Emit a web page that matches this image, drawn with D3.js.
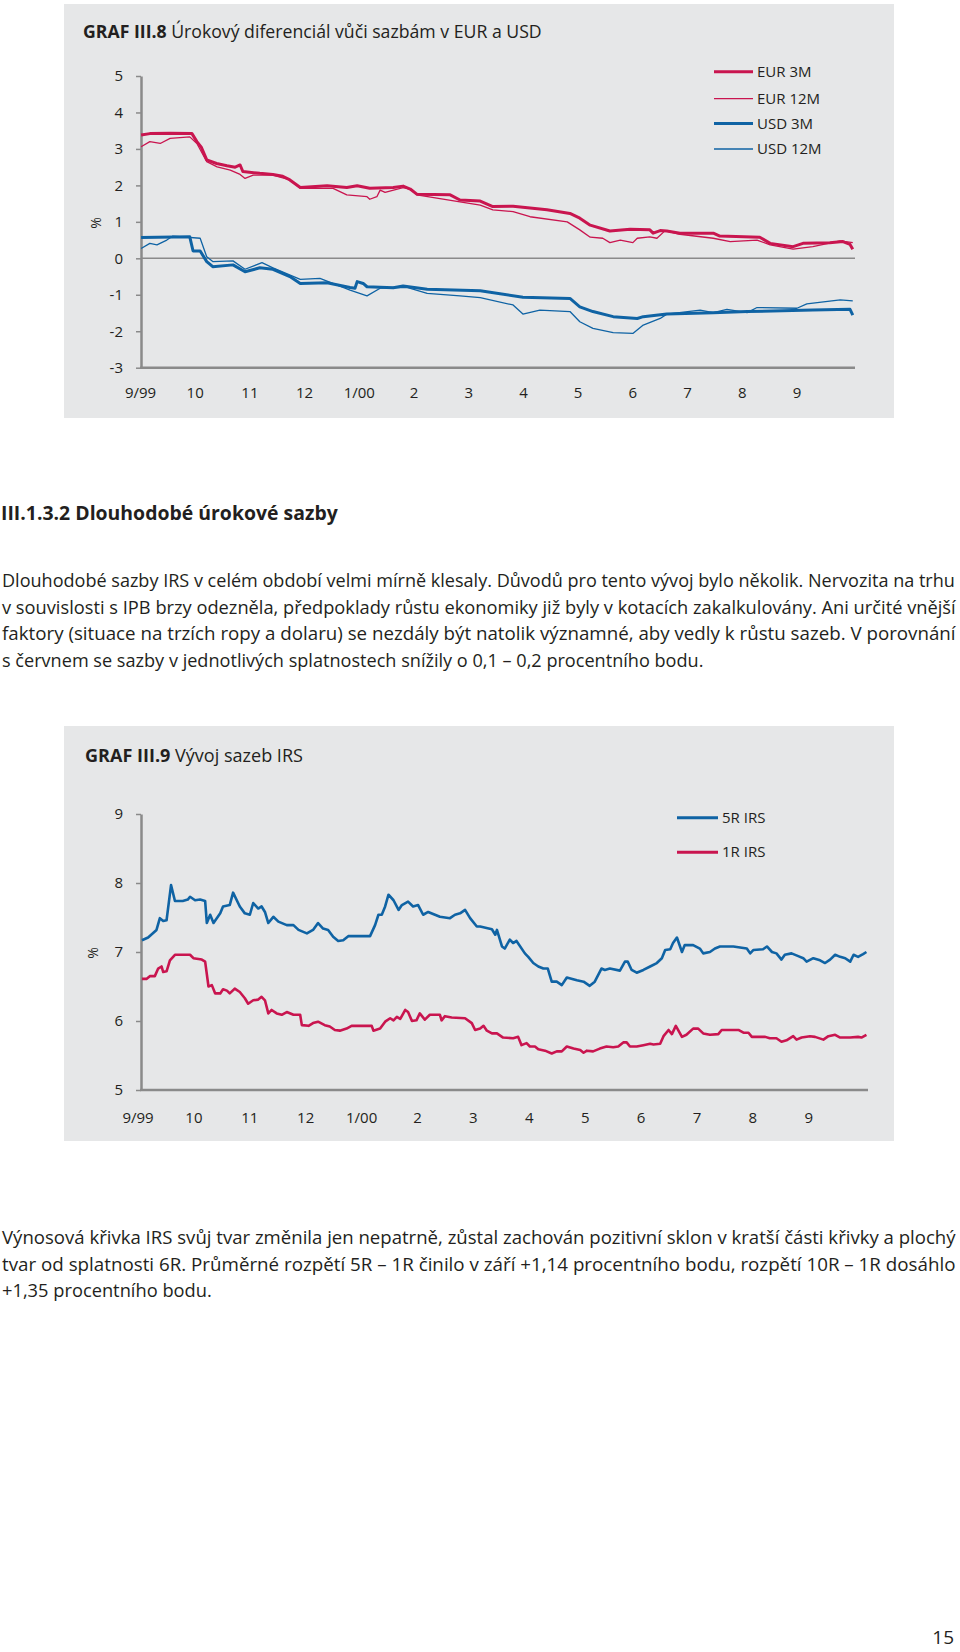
<!DOCTYPE html>
<html><head><meta charset="utf-8">
<script src="https://cdn.jsdelivr.net/npm/d3@7"></script>
<style>
body{margin:0;background:#fff;}
svg{display:block;}
text{font-family:"Liberation Sans Narrow","Open Sans","DejaVu Sans Condensed",sans-serif;fill:#231f20;}
</style></head><body><svg id="page" width="960" height="1652"></svg>
<script>
// ---------- DATA ----------
const monthLabels = ["9/99","10","11","12","1/00","2","3","4","5","6","7","8","9"];
const yTicksTop = [-3,-2,-1,0,1,2,3,4,5];
const yTicksBottom = [5,6,7,8,9];
const legendTop = ["EUR 3M","EUR 12M","USD 3M","USD 12M"];
const legendBottom = ["5R IRS","1R IRS"];

// [months since 1 Sep 1999, value in %]
const eur3m = [[0.02,3.38],[0.18,3.42],[0.55,3.43],[0.95,3.42],[1.04,3.2],[1.12,3.05],[1.22,2.7],[1.40,2.6],[1.59,2.54],[1.74,2.5],[1.83,2.56],[1.88,2.38],[2.19,2.33],[2.43,2.3],[2.61,2.25],[2.74,2.15],[2.93,1.94],[3.42,1.99],[3.78,1.94],[3.97,1.99],[4.20,1.92],[4.63,1.94],[4.81,1.98],[4.94,1.9],[5.06,1.76],[5.67,1.74],[5.85,1.6],[6.22,1.57],[6.45,1.42],[6.82,1.43],[7.44,1.33],[7.86,1.23],[8.04,1.1],[8.23,0.91],[8.59,0.75],[8.96,0.8],[9.32,0.78],[9.38,0.69],[9.51,0.76],[9.63,0.75],[9.87,0.69],[10.48,0.69],[10.60,0.61],[11.33,0.58],[11.52,0.41],[11.94,0.32],[12.12,0.41],[12.61,0.43],[12.85,0.46],[12.98,0.38],[13.03,0.25]];
const eur12m = [[0.02,3.06],[0.18,3.2],[0.37,3.15],[0.55,3.29],[0.91,3.33],[1.04,3.15],[1.22,2.65],[1.41,2.51],[1.65,2.42],[1.83,2.3],[1.92,2.19],[2.07,2.28],[2.43,2.28],[2.74,2.15],[2.93,1.92],[3.53,1.92],[3.78,1.74],[4.15,1.69],[4.20,1.62],[4.33,1.69],[4.39,1.87],[4.48,1.81],[4.81,1.94],[4.94,1.9],[5.06,1.74],[5.85,1.55],[6.22,1.46],[6.45,1.33],[6.82,1.28],[7.13,1.14],[7.81,1.0],[8.04,0.78],[8.23,0.58],[8.46,0.55],[8.59,0.43],[8.78,0.5],[9.01,0.43],[9.09,0.55],[9.32,0.59],[9.45,0.55],[9.60,0.76],[9.87,0.66],[10.48,0.55],[10.79,0.46],[11.28,0.5],[11.52,0.37],[11.94,0.25],[12.30,0.32],[12.80,0.48],[13.03,0.43]];
const usd3m = [[0.02,0.57],[0.91,0.59],[0.97,0.2],[1.10,0.2],[1.22,-0.09],[1.33,-0.23],[1.70,-0.18],[1.92,-0.37],[2.19,-0.26],[2.43,-0.3],[2.74,-0.5],[2.93,-0.69],[3.42,-0.67],[3.84,-0.8],[3.93,-0.82],[3.97,-0.64],[4.08,-0.69],[4.15,-0.78],[4.63,-0.81],[4.81,-0.76],[5.25,-0.85],[6.22,-0.89],[7.00,-1.07],[7.86,-1.1],[8.04,-1.33],[8.28,-1.46],[8.65,-1.6],[9.09,-1.65],[9.20,-1.6],[9.63,-1.53],[10.48,-1.49],[11.10,-1.46],[12.30,-1.42],[12.98,-1.4],[13.03,-1.56]];
const usd12m = [[0.02,0.27],[0.18,0.41],[0.31,0.37],[0.49,0.5],[0.60,0.61],[1.10,0.55],[1.22,0.04],[1.33,-0.09],[1.70,-0.07],[1.92,-0.3],[2.23,-0.12],[2.43,-0.26],[2.93,-0.58],[3.29,-0.55],[3.84,-0.87],[4.15,-1.03],[4.39,-0.82],[4.63,-0.8],[4.88,-0.8],[5.25,-0.96],[5.85,-1.03],[6.22,-1.08],[6.82,-1.28],[7.00,-1.53],[7.31,-1.42],[7.86,-1.46],[8.04,-1.74],[8.28,-1.92],[8.65,-2.04],[9.01,-2.06],[9.20,-1.83],[9.51,-1.65],[9.63,-1.53],[10.24,-1.42],[10.48,-1.49],[10.73,-1.4],[11.10,-1.49],[11.28,-1.35],[12.01,-1.37],[12.19,-1.25],[12.80,-1.14],[13.03,-1.17]];

const irs5r = [[0.08,7.17],[0.19,7.21],[0.34,7.32],[0.40,7.49],[0.46,7.45],[0.52,7.46],[0.60,7.97],[0.67,7.74],[0.81,7.74],[0.90,7.76],[0.94,7.80],[1.03,7.75],[1.12,7.76],[1.21,7.74],[1.24,7.42],[1.30,7.54],[1.36,7.42],[1.48,7.56],[1.53,7.66],[1.65,7.68],[1.71,7.86],[1.83,7.66],[1.92,7.56],[2.01,7.54],[2.07,7.71],[2.16,7.63],[2.22,7.66],[2.28,7.58],[2.34,7.42],[2.43,7.51],[2.52,7.44],[2.67,7.39],[2.79,7.39],[2.88,7.32],[3.03,7.27],[3.14,7.32],[3.23,7.42],[3.32,7.34],[3.41,7.32],[3.50,7.22],[3.59,7.16],[3.68,7.17],[3.77,7.23],[4.16,7.23],[4.25,7.39],[4.31,7.54],[4.37,7.54],[4.43,7.66],[4.49,7.83],[4.58,7.75],[4.67,7.61],[4.73,7.68],[4.84,7.73],[4.93,7.66],[5.02,7.68],[5.11,7.54],[5.20,7.58],[5.41,7.51],[5.59,7.49],[5.68,7.54],[5.77,7.56],[5.86,7.61],[5.95,7.49],[6.07,7.37],[6.13,7.37],[6.34,7.33],[6.40,7.25],[6.43,7.32],[6.52,7.08],[6.57,7.05],[6.66,7.18],[6.72,7.13],[6.78,7.16],[6.93,6.98],[6.99,6.93],[7.08,6.84],[7.17,6.79],[7.26,6.76],[7.34,6.76],[7.41,6.57],[7.50,6.57],[7.59,6.52],[7.68,6.63],[7.86,6.59],[7.98,6.57],[8.09,6.51],[8.18,6.57],[8.30,6.76],[8.36,6.74],[8.45,6.76],[8.63,6.73],[8.72,6.86],[8.77,6.86],[8.84,6.74],[8.93,6.70],[9.05,6.74],[9.17,6.79],[9.29,6.84],[9.38,6.91],[9.44,7.03],[9.53,7.04],[9.58,7.13],[9.65,7.21],[9.74,7.0],[9.79,7.10],[9.94,7.10],[10.06,7.05],[10.12,6.98],[10.24,7.0],[10.33,7.05],[10.42,7.08],[10.66,7.08],[10.90,7.05],[10.96,6.98],[11.02,7.03],[11.19,7.04],[11.26,7.08],[11.35,7.0],[11.43,6.98],[11.52,6.89],[11.58,6.96],[11.70,6.98],[11.82,6.94],[11.91,6.91],[11.97,6.86],[12.09,6.91],[12.21,6.88],[12.30,6.84],[12.39,6.89],[12.48,6.96],[12.57,6.93],[12.66,6.91],[12.75,6.86],[12.81,6.96],[12.89,6.93],[12.98,6.97],[13.04,7.0]];
const irs1r = [[0.08,6.61],[0.16,6.61],[0.22,6.65],[0.31,6.65],[0.37,6.76],[0.43,6.79],[0.46,6.71],[0.52,6.72],[0.58,6.88],[0.67,6.96],[0.94,6.96],[1.00,6.91],[1.15,6.89],[1.21,6.86],[1.27,6.50],[1.33,6.52],[1.39,6.40],[1.48,6.40],[1.53,6.46],[1.60,6.44],[1.65,6.40],[1.74,6.47],[1.83,6.42],[1.92,6.33],[1.98,6.25],[2.07,6.30],[2.16,6.31],[2.22,6.35],[2.28,6.30],[2.34,6.11],[2.40,6.16],[2.49,6.11],[2.58,6.09],[2.67,6.13],[2.79,6.09],[2.91,6.09],[2.94,5.94],[3.06,5.93],[3.14,5.97],[3.23,5.99],[3.35,5.94],[3.44,5.92],[3.53,5.87],[3.62,5.86],[3.74,5.89],[3.83,5.93],[4.19,5.93],[4.22,5.86],[4.34,5.89],[4.43,5.99],[4.52,6.04],[4.58,6.01],[4.64,6.06],[4.70,6.03],[4.79,6.16],[4.84,6.13],[4.91,6.0],[4.99,6.01],[5.05,6.11],[5.14,6.02],[5.23,6.09],[5.41,6.09],[5.44,6.01],[5.50,6.07],[5.62,6.05],[5.86,6.04],[5.98,5.97],[6.04,5.87],[6.13,5.89],[6.19,5.93],[6.25,5.86],[6.34,5.82],[6.43,5.82],[6.54,5.76],[6.72,5.75],[6.81,5.77],[6.87,5.65],[6.96,5.68],[7.02,5.63],[7.11,5.63],[7.17,5.59],[7.29,5.57],[7.41,5.53],[7.50,5.56],[7.59,5.56],[7.68,5.63],[7.80,5.60],[7.92,5.58],[7.98,5.54],[8.04,5.57],[8.15,5.56],[8.27,5.60],[8.39,5.63],[8.51,5.62],[8.60,5.63],[8.69,5.69],[8.75,5.69],[8.81,5.63],[8.93,5.63],[9.05,5.65],[9.17,5.67],[9.23,5.66],[9.35,5.67],[9.41,5.78],[9.50,5.87],[9.56,5.81],[9.63,5.93],[9.74,5.77],[9.82,5.80],[9.94,5.89],[10.03,5.89],[10.12,5.82],[10.24,5.80],[10.39,5.81],[10.45,5.87],[10.75,5.87],[10.84,5.83],[10.93,5.83],[10.99,5.77],[11.23,5.77],[11.31,5.75],[11.43,5.75],[11.52,5.70],[11.61,5.72],[11.73,5.78],[11.79,5.73],[11.88,5.76],[12.03,5.78],[12.12,5.77],[12.27,5.73],[12.36,5.78],[12.48,5.80],[12.57,5.76],[12.75,5.76],[12.89,5.77],[12.95,5.76],[13.04,5.80]];

// ---------- DRAWING ----------
const RED = "#c9154f", BLUE = "#0f63a4", GRAY = "#8a8a8a", BG = "#e6e7e8";
const svg = d3.select("#page");

// place text at (x,y) and squeeze it horizontally to a target width
function fitText(sel, x, y, w) {
  const nat = sel.node().getComputedTextLength();
  const sx = nat > 0 ? w / nat : 1;
  sel.attr("x", 0).attr("y", 0).attr("transform", `translate(${x},${y}) scale(${sx},1)`);
  return sel;
}

function drawChart(o) {
  const g = svg.append("g");
  g.append("rect").attr("x", o.panel[0]).attr("y", o.panel[1]).attr("width", o.panel[2]).attr("height", o.panel[3]).attr("fill", BG);
  const t = g.append("text").style("font-size", "18px");
  t.append("tspan").style("font-weight", "bold").text(o.titleBold);
  t.append("tspan").text(" " + o.titleRest);
  fitText(t, o.titleX, o.titleY, o.titleW);

  const x = d3.scaleLinear().domain(o.xDomain).range(o.xRange);
  const y = d3.scaleLinear().domain(o.yDomain).range(o.yRange);

  if (o.zero) {
    g.append("line").attr("x1", 141).attr("x2", o.axisEnd).attr("y1", y(0)).attr("y2", y(0))
      .attr("stroke", GRAY).attr("stroke-width", 1.5);
  }
  const ya = g.append("g").attr("transform", "translate(141,0)")
    .call(d3.axisLeft(y).tickValues(o.yTicks).tickSize(5).tickSizeOuter(0).tickPadding(13).tickFormat(d => String(d)));
  ya.select(".domain").attr("stroke", GRAY).attr("stroke-width", 2.5);
  ya.selectAll(".tick line").attr("stroke", GRAY).attr("stroke-width", 1.5);
  ya.selectAll(".tick text").attr("fill", "#333").style("font-size", "15px").style("font-family", null);
  g.append("line").attr("x1", 140).attr("x2", o.axisEnd).attr("y1", y(o.yDomain[0])).attr("y2", y(o.yDomain[0]))
    .attr("stroke", GRAY).attr("stroke-width", 2.5);
  const xa = g.append("g").attr("transform", `translate(0,${y(o.yDomain[0])})`)
    .call(d3.axisBottom(x).tickValues(d3.range(monthLabels.length)).tickSize(0).tickFormat((d, i) => monthLabels[i]));
  xa.select(".domain").remove();
  xa.selectAll(".tick text").attr("y", o.xLabelOff).attr("dy", 0).attr("fill", "#333").style("font-size", "15px").style("font-family", null);

  g.append("text").attr("transform", `translate(${o.pctX},${o.pctY}) rotate(-90)`).attr("text-anchor", "middle")
    .style("font-size", "14px").attr("fill", "#333").text("%");

  const line = d3.line().x(d => x(d[0])).y(d => y(d[1]));
  o.series.forEach(s => {
    g.append("path").datum(s.data).attr("d", line).attr("fill", "none").attr("stroke", s.color)
      .attr("stroke-width", s.w).attr("stroke-linejoin", "round");
  });
  o.series.forEach((s, i) => {
    const ly = o.legY[i];
    g.append("line").attr("x1", o.legX1).attr("x2", o.legX2).attr("y1", ly).attr("y2", ly)
      .attr("stroke", s.color).attr("stroke-width", s.lw);
    g.append("text").attr("x", o.legX2 + 4).attr("y", ly + 5).style("font-size", "15px").attr("fill", "#333").text(s.name);
  });
}

drawChart({
  panel: [64, 4, 830, 414], titleX: 83, titleY: 37.5, titleW: 459,
  titleBold: "GRAF III.8", titleRest: "Úrokový diferenciál vůči sazbám v EUR a USD",
  xDomain: [0, 13.1], xRange: [140, 856.6], yDomain: [-3, 5], yRange: [367.7, 76], yTicks: yTicksTop,
  zero: true, axisEnd: 855, xLabelOff: 30.5, pctX: 101, pctY: 223,
  legX1: 714, legX2: 753, legY: [71.7, 98.7, 123.5, 149],
  series: [
    {name: legendTop[0], data: eur3m, color: RED, w: 3, lw: 3},
    {name: legendTop[1], data: eur12m, color: RED, w: 1.3, lw: 1.3},
    {name: legendTop[2], data: usd3m, color: BLUE, w: 3, lw: 3.2},
    {name: legendTop[3], data: usd12m, color: BLUE, w: 1.3, lw: 1.3}
  ]
});

drawChart({
  panel: [64, 726, 830, 415], titleX: 85, titleY: 761.7, titleW: 218,
  titleBold: "GRAF III.9", titleRest: "Vývoj sazeb IRS",
  xDomain: [0, 13], xRange: [137.5, 864.2], yDomain: [5, 9], yRange: [1090, 814], yTicks: yTicksBottom,
  zero: false, axisEnd: 868, xLabelOff: 32.5, pctX: 98, pctY: 953,
  legX1: 677, legX2: 718, legY: [817.7, 852.3],
  series: [
    {name: legendBottom[0], data: irs5r, color: BLUE, w: 2.6, lw: 3},
    {name: legendBottom[1], data: irs1r, color: RED, w: 2.6, lw: 3}
  ]
});

// ---------- BODY TEXT ----------
const heading = "III.1.3.2 Dlouhodobé úrokové sazby";
const para1 = [
  "Dlouhodobé sazby IRS v celém období velmi mírně klesaly. Důvodů pro tento vývoj bylo několik. Nervozita na trhu",
  "v souvislosti s IPB brzy odezněla, předpoklady růstu ekonomiky již byly v kotacích zakalkulovány. Ani určité vnější",
  "faktory (situace na trzích ropy a dolaru) se nezdály být natolik významné, aby vedly k růstu sazeb. V porovnání",
  "s červnem se sazby v jednotlivých splatnostech snížily o 0,1 – 0,2 procentního bodu."
];
const para1W = [954, 954, 954, 702];
const para2 = [
  "Výnosová křivka IRS svůj tvar změnila jen nepatrně, zůstal zachován pozitivní sklon v kratší části křivky a plochý",
  "tvar od splatnosti 6R. Průměrné rozpětí 5R – 1R činilo v září +1,14 procentního bodu, rozpětí 10R – 1R dosáhlo",
  "+1,35 procentního bodu."
];
const para2W = [954, 954, 210];

fitText(svg.append("text").style("font-size", "19.5px").style("font-weight", "bold").text(heading), 1, 520, 337);

function para(lines, widths, y0) {
  lines.forEach((l, i) => {
    fitText(svg.append("text").style("font-size", "18.5px").text(l), 2, y0 + i * 26.6, widths[i]);
  });
}
para(para1, para1W, 587);
para(para2, para2W, 1244);

svg.append("text").attr("x", 954).attr("y", 1644).attr("text-anchor", "end").style("font-size", "19px").text("15");
</script></body></html>
